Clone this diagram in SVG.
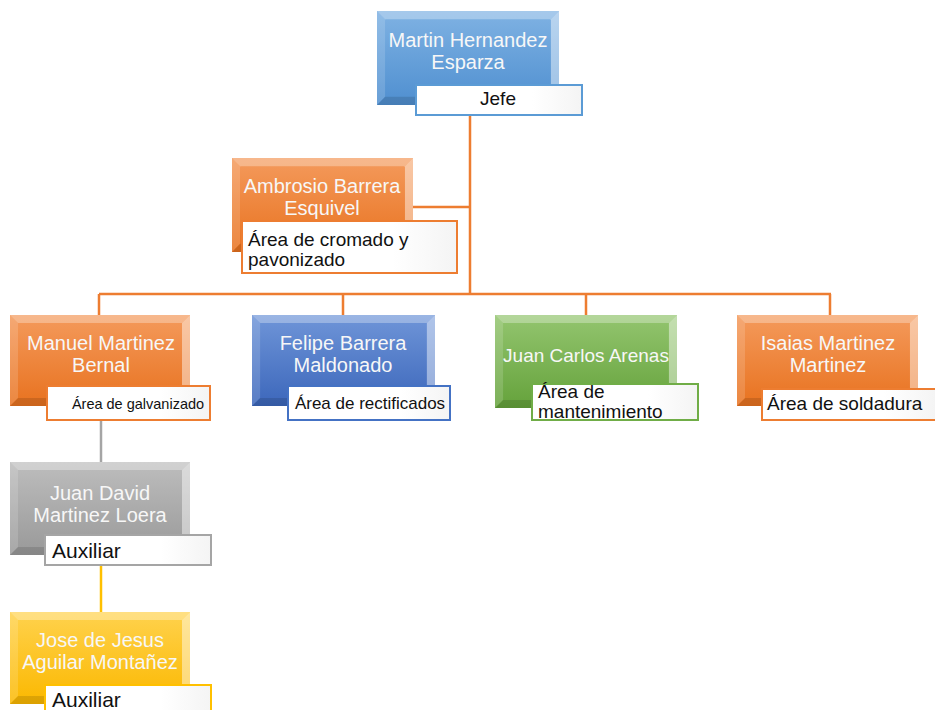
<svg xmlns="http://www.w3.org/2000/svg" xmlns:xlink="http://www.w3.org/1999/xlink" width="935" height="710" viewBox="0 0 935 710">
<defs>
  <linearGradient id="gBlue" x1="0" y1="0" x2="0" y2="1"><stop offset="0" stop-color="#7fb2e3"/><stop offset="1" stop-color="#4f8fd0"/></linearGradient>
  <linearGradient id="gOrange" x1="0" y1="0" x2="0" y2="1"><stop offset="0" stop-color="#f49a5c"/><stop offset="1" stop-color="#e8721f"/></linearGradient>
  <linearGradient id="gDBlue" x1="0" y1="0" x2="0" y2="1"><stop offset="0" stop-color="#6f95d8"/><stop offset="1" stop-color="#3c67bb"/></linearGradient>
  <linearGradient id="gGreen" x1="0" y1="0" x2="0" y2="1"><stop offset="0" stop-color="#93c56f"/><stop offset="1" stop-color="#65a23b"/></linearGradient>
  <linearGradient id="gGray" x1="0" y1="0" x2="0" y2="1"><stop offset="0" stop-color="#bdbdbd"/><stop offset="1" stop-color="#999999"/></linearGradient>
  <linearGradient id="gYellow" x1="0" y1="0" x2="0" y2="1"><stop offset="0" stop-color="#ffd24d"/><stop offset="1" stop-color="#fbb800"/></linearGradient>
  <linearGradient id="gLabel" x1="0" y1="0" x2="1" y2="0"><stop offset="0" stop-color="#ffffff"/><stop offset="0.7" stop-color="#ffffff"/><stop offset="1" stop-color="#f4f4f4"/></linearGradient>
  <symbol id="bevel" viewBox="0 0 180 92" preserveAspectRatio="none">
    <polygon points="0,0 180,0 172,8 8,8" fill="#ffffff" fill-opacity="0.3"/>
    <polygon points="0,0 8,8 8,84 0,92" fill="#ffffff" fill-opacity="0.15"/>
    <polygon points="180,0 180,92 172,84 172,8" fill="#ffffff" fill-opacity="0.45"/>
    <polygon points="0,92 8,84 172,84 180,92" fill="#000000" fill-opacity="0.12"/>
  </symbol>
</defs>
<style>
  .name { font-family: "Liberation Sans", Arial, sans-serif; font-size: 20px; fill: #f7f7f7; text-anchor: middle; }
  .lbl { font-family: "Liberation Sans", Arial, sans-serif; font-size: 19px; fill: #111111; }
  .lblbox { fill: url(#gLabel); stroke-width: 2; }
  .conn { fill: none; stroke-width: 2.5; }
</style>

<g id="connectors">
  <path class="conn" stroke="#ed7d31" d="M470,115 V294 M413,207 H470 M99,294 H831 M99,294 V315 M343,294 V315 M586,294 V315 M830,294 V315"/>
  <path class="conn" stroke="#a5a5a5" d="M101,420 V462"/>
  <path class="conn" stroke="#ffc000" d="M101,565 V612"/>
</g>

<g id="n-martin">
  <rect x="377" y="11" width="182" height="94" fill="url(#gBlue)"/>
  <use xlink:href="#bevel" x="377" y="11" width="182" height="94"/>
  <text class="name" x="468" y="47">Martin Hernandez</text>
  <text class="name" x="468" y="69">Esparza</text>
  <rect class="lblbox" x="416" y="85" width="166" height="30" stroke="#5b9bd5"/>
  <text class="lbl" x="498" y="105" text-anchor="middle">Jefe</text>
</g>

<g id="n-ambrosio">
  <rect x="232" y="158" width="181" height="94" fill="url(#gOrange)"/>
  <use xlink:href="#bevel" x="232" y="158" width="181" height="94"/>
  <text class="name" x="322" y="193">Ambrosio Barrera</text>
  <text class="name" x="322" y="215">Esquivel</text>
  <rect class="lblbox" x="242" y="221" width="215" height="52" stroke="#ed7d31"/>
  <text class="lbl" x="248" y="246">Área de cromado y</text>
  <text class="lbl" x="248" y="266">pavonizado</text>
</g>

<g id="n-manuel">
  <rect x="10" y="315" width="180" height="91" fill="url(#gOrange)"/>
  <use xlink:href="#bevel" x="10" y="315" width="180" height="91"/>
  <text class="name" x="101" y="350">Manuel Martinez</text>
  <text class="name" x="101" y="372">Bernal</text>
  <rect class="lblbox" x="47" y="386" width="163" height="34" stroke="#ed7d31"/>
  <text class="lbl" x="138" y="409" text-anchor="middle" style="font-size:14.5px">Área de galvanizado</text>
</g>

<g id="n-felipe">
  <rect x="252" y="315" width="183" height="91" fill="url(#gDBlue)"/>
  <use xlink:href="#bevel" x="252" y="315" width="183" height="91"/>
  <text class="name" x="343" y="350">Felipe Barrera</text>
  <text class="name" x="343" y="372">Maldonado</text>
  <rect class="lblbox" x="288" y="386" width="162" height="34" stroke="#4472c4"/>
  <text class="lbl" x="370" y="409" text-anchor="middle" style="font-size:17px">Área de rectificados</text>
</g>

<g id="n-juancarlos">
  <rect x="495" y="315" width="182" height="93" fill="url(#gGreen)"/>
  <use xlink:href="#bevel" x="495" y="315" width="182" height="93"/>
  <text class="name" x="586" y="362" style="font-size:19px">Juan Carlos Arenas</text>
  <rect class="lblbox" x="532" y="384" width="166" height="36" stroke="#70ad47"/>
  <text class="lbl" x="538" y="398">Área de</text>
  <text class="lbl" x="538" y="418">mantenimiento</text>
</g>

<g id="n-isaias">
  <rect x="737" y="315" width="181" height="91" fill="url(#gOrange)"/>
  <use xlink:href="#bevel" x="737" y="315" width="181" height="91"/>
  <text class="name" x="828" y="350">Isaias Martinez</text>
  <text class="name" x="828" y="372">Martinez</text>
  <rect class="lblbox" x="762" y="389" width="174" height="31" stroke="#ed7d31"/>
  <text class="lbl" x="767" y="410">Área de soldadura</text>
</g>

<g id="n-juandavid">
  <rect x="10" y="462" width="180" height="93" fill="url(#gGray)"/>
  <use xlink:href="#bevel" x="10" y="462" width="180" height="93"/>
  <text class="name" x="100" y="500">Juan David</text>
  <text class="name" x="100" y="522">Martinez Loera</text>
  <rect class="lblbox" x="45" y="535" width="166" height="30" stroke="#a5a5a5"/>
  <text class="lbl" x="52" y="558" style="font-size:21px">Auxiliar</text>
</g>

<g id="n-jose">
  <rect x="10" y="612" width="180" height="92" fill="url(#gYellow)"/>
  <use xlink:href="#bevel" x="10" y="612" width="180" height="92"/>
  <text class="name" x="100" y="647">Jose de Jesus</text>
  <text class="name" x="100" y="669">Aguilar Montañez</text>
  <rect class="lblbox" x="45" y="685" width="166" height="34" stroke="#ffc000"/>
  <text class="lbl" x="52" y="707" style="font-size:21px">Auxiliar</text>
</g>
</svg>
